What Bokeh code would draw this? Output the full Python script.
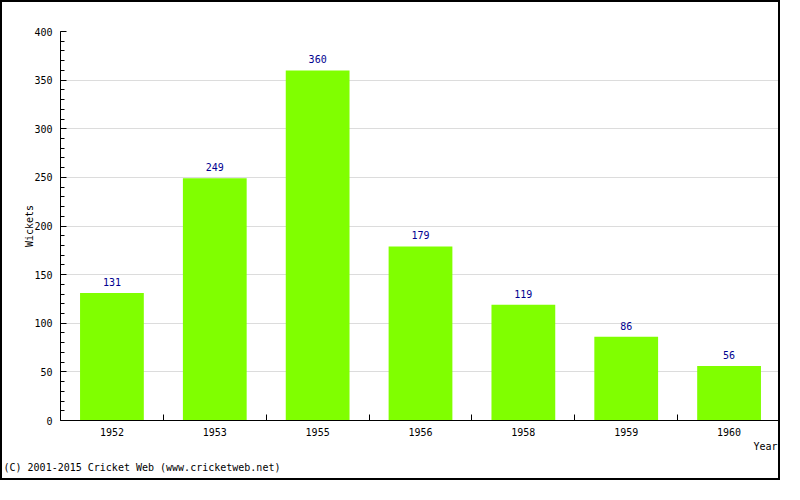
from bokeh.plotting import figure
from bokeh.models import (Range1d, FixedTicker, SingleIntervalTicker, ColumnDataSource,
                          LabelSet, Title)
from bokeh.core.properties import value
from bokeh.embed import file_html
from bokeh.resources import INLINE

years = ["1952", "1953", "1955", "1956", "1958", "1959", "1960"]
wickets = [131, 249, 360, 179, 119, 86, 56]
y_ticks_interval = 50
y_max = 400

FONT = "DejaVu Sans Mono"
n = len(years)
xs = [i + 0.5 for i in range(n)]
src = ColumnDataSource(dict(x=xs, top=wickets, label=[str(v) for v in wickets]))

p = figure(width=780, height=480, output_backend="svg", toolbar_location=None,
           x_range=Range1d(0, n), y_range=Range1d(0, y_max),
           min_border_left=58, min_border_right=2, min_border_top=29, min_border_bottom=62)
p.styles = {"border": "2px solid black"}
p.background_fill_color = "white"
p.border_fill_color = "white"
p.outline_line_color = None

p.vbar(x="x", top="top", width=0.62, bottom=0, source=src, fill_color="#80FF00", line_color=None)

labels = LabelSet(x="x", y="top", text="label", source=src, text_align="center",
                  text_baseline="bottom", y_offset=7, text_font=value(FONT),
                  text_font_size=value("10px"), text_color=value("#000090"))
p.add_layout(labels)

# x axis
xa = p.xaxis[0]
xa.ticker = FixedTicker(ticks=xs, minor_ticks=list(range(1, n + 1)))
xa.major_label_overrides = {x: y for x, y in zip(xs, years)}
xa.major_tick_in = 0
xa.major_tick_out = 0
xa.minor_tick_in = 6
xa.minor_tick_out = 0
xa.major_label_standoff = 7
xa.major_label_text_font = FONT
xa.major_label_text_font_size = "10px"
xa.major_label_text_color = "black"
xa.axis_line_color = "black"
xa.minor_tick_line_color = "black"

# y axis
ya = p.yaxis[0]
ya.ticker = SingleIntervalTicker(interval=y_ticks_interval, num_minor_ticks=5)
ya.major_tick_in = 6
ya.major_tick_out = 0
ya.minor_tick_in = 4
ya.minor_tick_out = 0
ya.major_label_standoff = 8
ya.major_label_text_font = FONT
ya.major_label_text_font_size = "10px"
ya.major_label_text_color = "black"
ya.axis_label = "Wickets"
ya.axis_label_text_font = FONT
ya.axis_label_text_font_size = "10px"
ya.axis_label_text_font_style = "normal"
ya.axis_label_text_color = "black"
ya.axis_label_standoff = -4
ya.axis_line_color = "black"
ya.major_tick_line_color = "black"
ya.minor_tick_line_color = "black"

p.xgrid.visible = False
p.ygrid.grid_line_color = "#dcdcdc"
p.ygrid.ticker = ya.ticker

p.add_layout(Title(text="Year", align="right", offset=3, standoff=1, text_font=FONT,
                   text_font_size="10px", text_font_style="normal", text_color="black"), "below")
p.add_layout(Title(text="(C) 2001-2015 Cricket Web (www.cricketweb.net)", align="left",
                   offset=-57, standoff=15, text_font=FONT, text_font_size="10px",
                   text_font_style="normal", text_color="black"), "below")

open("out.html", "w").write(file_html(p, INLINE))
